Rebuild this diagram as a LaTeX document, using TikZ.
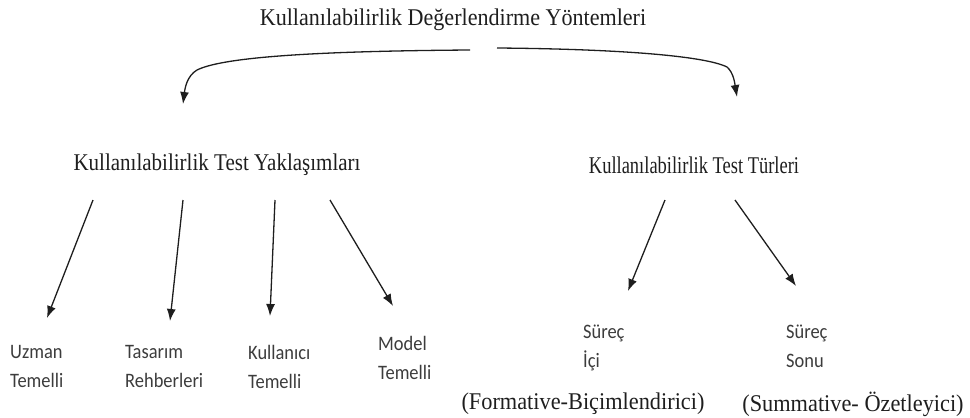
\documentclass[tikz,border=0pt]{standalone}
\usepackage{graphicx}
\usepackage{fontspec}
\setmainfont{Liberation Serif}
\newfontfamily\labelfont{Carlito}
\usetikzlibrary{arrows.meta}

\definecolor{inkdark}{HTML}{1E1E1E}
\definecolor{inklabel}{HTML}{3C3C3C}

% narrow setting of a piece of text: \narrow{factor}{text}
\newcommand{\narrow}[2]{\scalebox{#1}[1]{#2}}

\tikzset{
  heading/.style={inner sep=0pt, text=inkdark, font=\fontsize{24}{26}\selectfont},
  leaf/.style={inner sep=0pt, anchor=north west, align=left, text=inklabel,
               font=\labelfont\fontsize{20.5}{29}\selectfont},
  note/.style={inner sep=0pt, text=inkdark, font=\fontsize{24}{26}\selectfont},
  arr/.style={draw=inkdark, line width=1.3pt,
              -{Latex[length=12pt,width=9pt]}}
}

\begin{document}
\begin{tikzpicture}[x=1pt,y=-1pt]
  \useasboundingbox (0,0) rectangle (970,418);

  % headings
  \node[heading] (top) at (453,20) {\narrow{0.92}{Kullanılabilirlik Değerlendirme Yöntemleri}};
  \node[heading] (approach) at (217,165) {\narrow{0.875}{Kullanılabilirlik Test Yaklaşımları}};
  \node[heading] (types) at (694,165) {\narrow{0.77}{Kullanılabilirlik Test Türleri}};

  % leaves
  \node[leaf] (uzman) at (10,345) {\narrow{0.9}{Uzman}\\\narrow{0.9}{Temelli}};
  \node[leaf] (tasarim) at (125,345) {\narrow{0.9}{Tasarım}\\\narrow{0.9}{Rehberleri}};
  \node[leaf] (kullanici) at (248,345) {\narrow{0.9}{Kullanıcı}\\\narrow{0.9}{Temelli}};
  \node[leaf] (model) at (378,336) {\narrow{0.9}{Model}\\\narrow{0.9}{Temelli}};
  \node[leaf] (ici) at (583,325) {\narrow{0.9}{Süreç}\\\narrow{0.9}{İçi}};
  \node[leaf] (sonu) at (786,325) {\narrow{0.9}{Süreç}\\\narrow{0.9}{Sonu}};
  \node[note] (formative) at (583,404) {\narrow{0.93}{(Formative-Biçimlendirici)}};
  \node[note] (summative) at (853,404) {\narrow{0.93}{(Summative- Özetleyici)}};

  % connector end points
  \coordinate (topL) at (470,50);
  \coordinate (topR) at (497,48);
  \coordinate (tipL) at (183,104);
  \coordinate (tipR) at (737,97);

  \coordinate (a1) at (93,200);   \coordinate (b1) at (47,318);
  \coordinate (a2) at (183,200);  \coordinate (b2) at (170,321);
  \coordinate (a3) at (275,200);  \coordinate (b3) at (270,316);
  \coordinate (a4) at (330,200);  \coordinate (b4) at (393,306);
  \coordinate (a5) at (665,200);  \coordinate (b5) at (628,291);
  \coordinate (a6) at (735,200);  \coordinate (b6) at (796,286);

  % curved connectors from the title
  \draw[arr] (topL) .. controls (330,51) and (225,56) .. (197,70)
                    .. controls (187,76) and (185,88) .. (tipL);
  \draw[arr] (topR) .. controls (620,49) and (705,56) .. (727,67)
                    .. controls (734,73) and (735,85) .. (tipR);

  % straight connectors to the leaves
  \draw[arr] (a1) -- (b1);
  \draw[arr] (a2) -- (b2);
  \draw[arr] (a3) -- (b3);
  \draw[arr] (a4) -- (b4);
  \draw[arr] (a5) -- (b5);
  \draw[arr] (a6) -- (b6);
\end{tikzpicture}
\end{document}
